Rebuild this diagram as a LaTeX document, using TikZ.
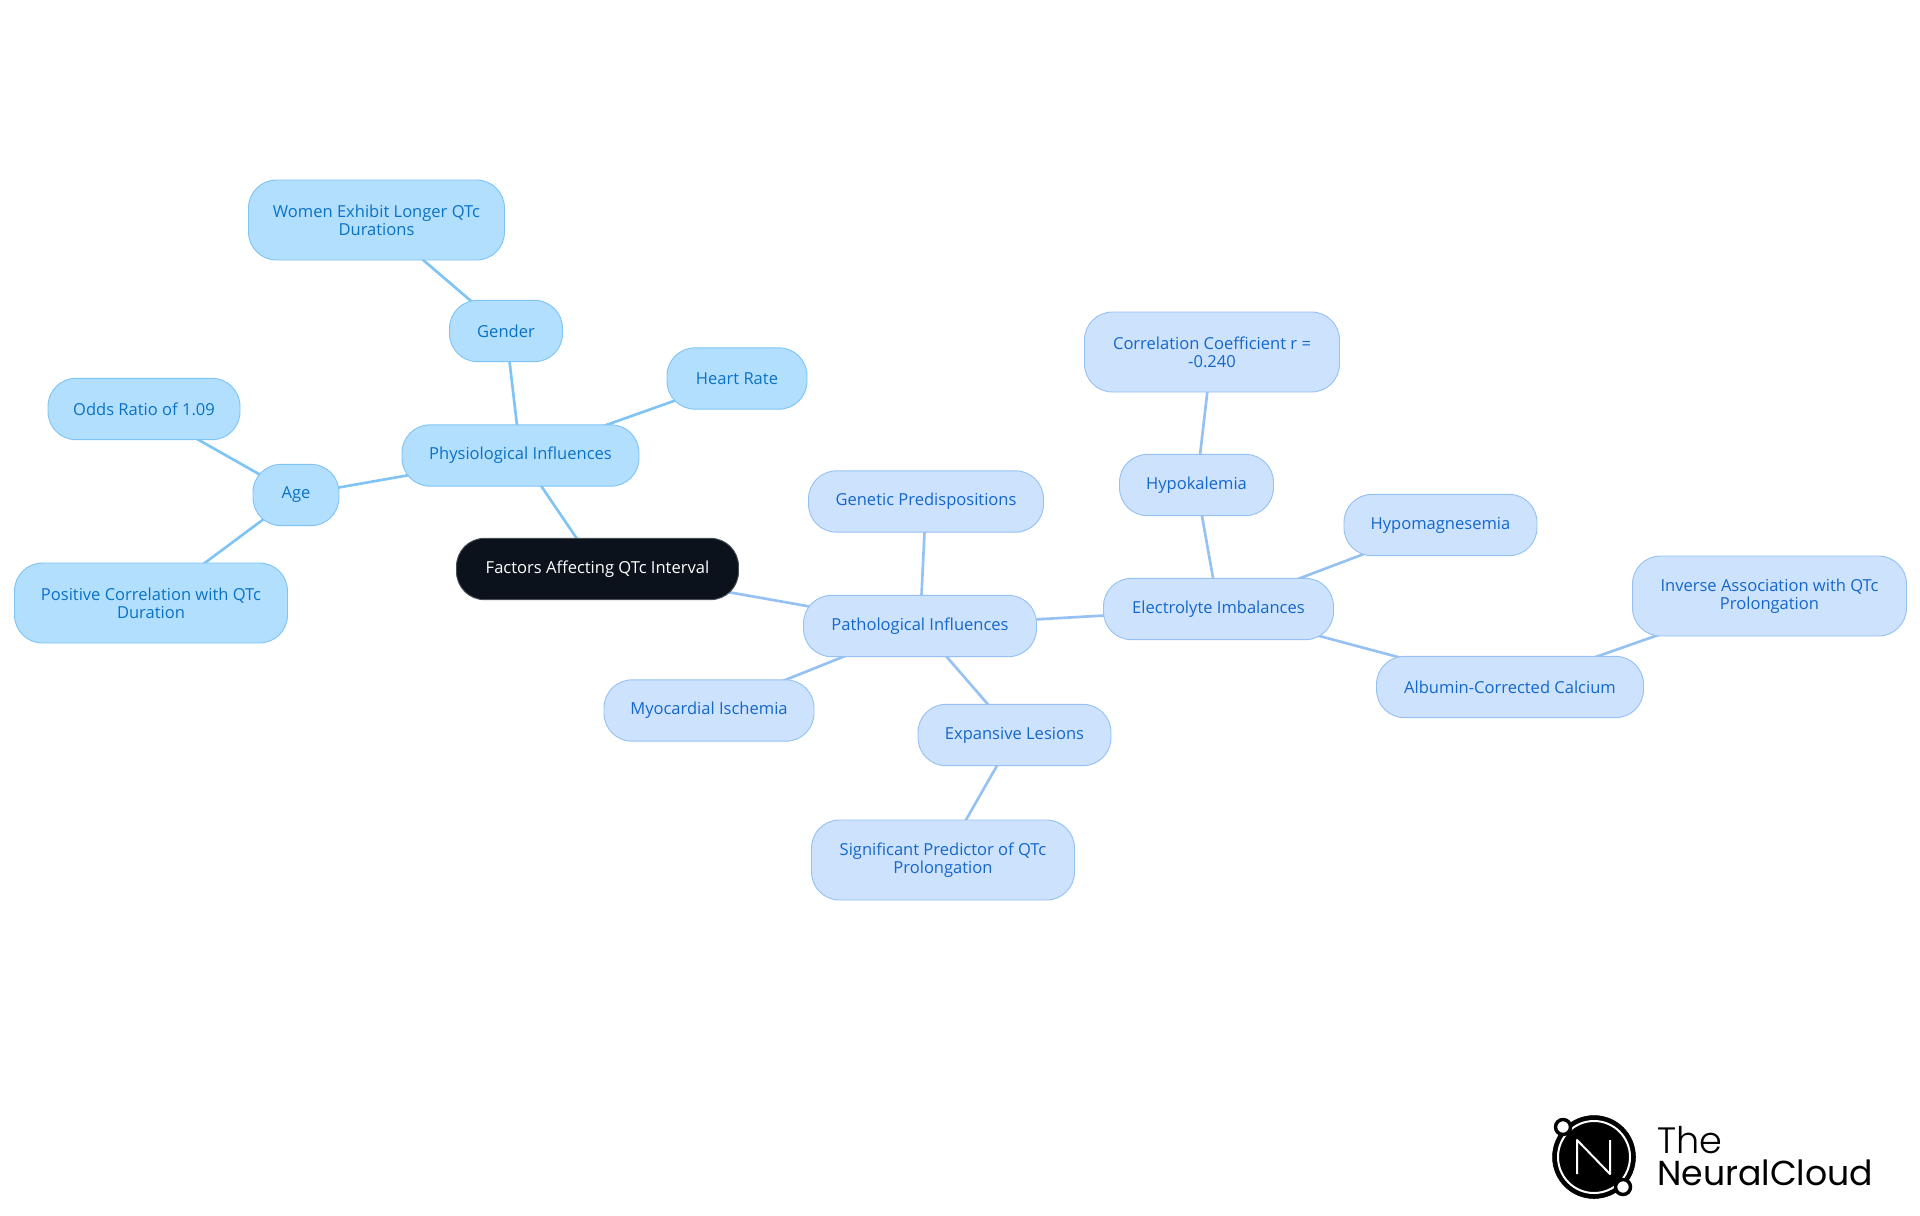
\documentclass[tikz,border=0pt]{standalone}
\usepackage{fontspec}
\setmainfont{Open Sans}
\newfontfamily\logofont{Poppins Light}
\newfontfamily\logobold{Poppins}
\usetikzlibrary{backgrounds}
\definecolor{physfill}{HTML}{B3DFFF}
\definecolor{physline}{HTML}{7FC4F5}
\definecolor{phystext}{HTML}{0A72C6}
\definecolor{pathfill}{HTML}{CCE2FD}
\definecolor{pathline}{HTML}{96C2F3}
\definecolor{pathtext}{HTML}{1567CC}
\definecolor{rootfill}{HTML}{0B121B}
\tikzset{
	mapnode/.style={rectangle,rounded corners=21pt,line width=0.7pt,align=center,inner sep=0pt,minimum height=46pt,font=\fontsize{12.4}{13.8}\selectfont},
	rootnode/.style={mapnode,fill=rootfill,draw=rootfill!75!white,text=white},
	physnode/.style={mapnode,fill=physfill,draw=physline,text=phystext},
	pathnode/.style={mapnode,fill=pathfill,draw=pathline,text=pathtext},
	tallnode/.style={minimum height=60pt},
	physlink/.style={draw=physline,line width=2pt},
	pathlink/.style={draw=pathline,line width=2pt}
}
\begin{document}
\begin{tikzpicture}[x=0.75pt,y=0.75pt,yscale=-1,xscale=1]
		\useasboundingbox (0,0) rectangle (1920,1215);
		\node [rootnode,minimum width=211.5pt] (root) at (597.5,569) {Factors Affecting QTc Interval};
		\node [physnode,minimum width=177.75pt] (phys) at (520.5,455.5) {Physiological Influences};
		\node [physnode,minimum width=84.75pt] (gender) at (506,331) {Gender};
		\node [physnode,tallnode,minimum width=192pt] (women) at (376.5,220) {Women Exhibit Longer QTc\\Durations};
		\node [physnode,minimum width=105pt] (heart) at (737,378.5) {Heart Rate};
		\node [physnode,minimum width=64.5pt] (age) at (296,495) {Age};
		\node [physnode,minimum width=144pt] (odds) at (144,409) {Odds Ratio of 1.09};
		\node [physnode,tallnode,minimum width=204.75pt] (positive) at (151,603) {Positive Correlation with QTc\\Duration};
		\node [pathnode,minimum width=174.75pt] (patho) at (920,626) {Pathological Influences};
		\node [pathnode,minimum width=176.25pt] (genetic) at (926,501.5) {Genetic Predispositions};
		\node [pathnode,minimum width=157.5pt] (myo) at (709,710.5) {Myocardial Ischemia};
		\node [pathnode,minimum width=144.75pt] (expansive) at (1014.5,735) {Expansive Lesions};
		\node [pathnode,tallnode,minimum width=197.25pt] (predictor) at (943,860) {Significant Predictor of QTc\\Prolongation};
		\node [pathnode,minimum width=172.5pt] (electro) at (1218.5,609) {Electrolyte Imbalances};
		\node [pathnode,minimum width=115.5pt] (hypok) at (1196.5,485) {Hypokalemia};
		\node [pathnode,tallnode,minimum width=191.25pt] (coeff) at (1212,352) {Correlation Coefficient r =\\-0.240};
		\node [pathnode,minimum width=144.75pt] (hypom) at (1440.5,525) {Hypomagnesemia};
		\node [pathnode,minimum width=200.25pt] (albumin) at (1510,687) {Albumin-Corrected Calcium};
		\node [pathnode,tallnode,minimum width=205.5pt] (inverse) at (1769.5,596) {Inverse Association with QTc\\Prolongation};
		\begin{scope}[on background layer]
		\draw [physlink] (root.center) -- (phys.center);
		\draw [physlink] (phys.center) -- (gender.center);
		\draw [physlink] (gender.center) -- (women.center);
		\draw [physlink] (phys.center) -- (heart.center);
		\draw [physlink] (phys.center) -- (age.center);
		\draw [physlink] (age.center) -- (odds.center);
		\draw [physlink] (age.center) -- (positive.center);
		\draw [pathlink] (root.center) -- (patho.center);
		\draw [pathlink] (patho.center) -- (genetic.center);
		\draw [pathlink] (patho.center) -- (myo.center);
		\draw [pathlink] (patho.center) -- (expansive.center);
		\draw [pathlink] (expansive.center) -- (predictor.center);
		\draw [pathlink] (patho.center) -- (electro.center);
		\draw [pathlink] (electro.center) -- (hypok.center);
		\draw [pathlink] (hypok.center) -- (coeff.center);
		\draw [pathlink] (electro.center) -- (hypom.center);
		\draw [pathlink] (electro.center) -- (albumin.center);
		\draw [pathlink] (albumin.center) -- (inverse.center);
		\end{scope}
		\draw [fill=black] (1594,1157) circle [radius=41.5];
		\draw [white,line width=1.5pt] (1594,1157) circle [radius=36];
		\draw [white,line width=1.5pt,line join=round] (1577,1174) -- (1577,1140) -- (1610,1174) -- (1610,1140);
		\draw [fill=white,draw=black,line width=2.6pt] (1563,1127) circle [radius=7.5];
		\draw [fill=white,draw=black,line width=2.6pt] (1623,1187) circle [radius=7.5];
		\node [anchor=west,inner sep=0pt,font=\logofont\fontsize{27.5}{27.5}\selectfont] (logothe) at (1657,1140) {The};
		\node [anchor=west,inner sep=0pt,font=\logobold\fontsize{26}{27}\selectfont] (logoname) at (1657,1173) {NeuralCloud};
\end{tikzpicture}
\end{document}
